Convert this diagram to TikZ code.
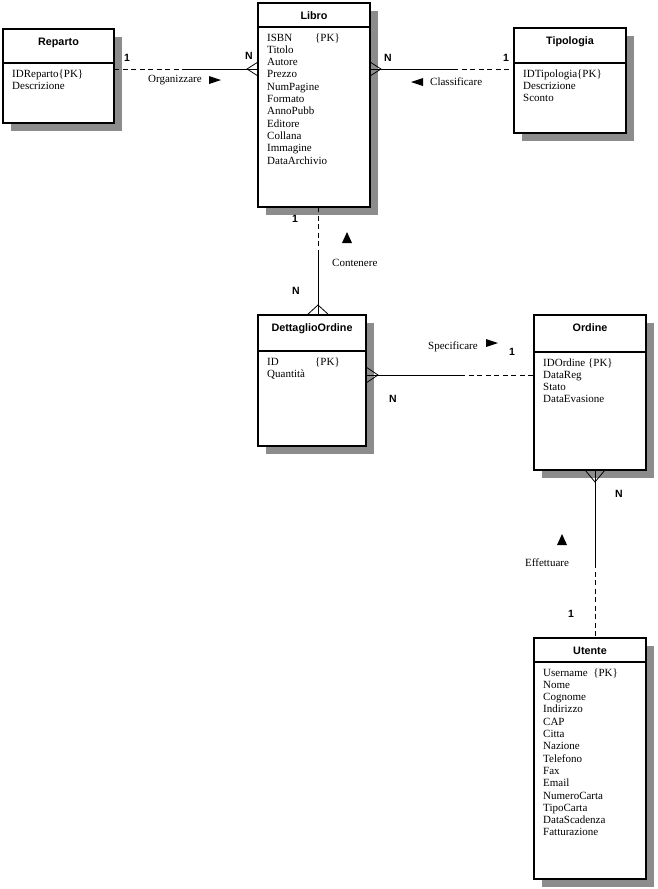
\documentclass[tikz,border=0pt]{standalone}
\usepackage{fontspec}
\setmainfont{Liberation Serif}
\newfontfamily\hfont{Liberation Sans}
\usetikzlibrary{calc}
\definecolor{shadowc}{gray}{0.55}
\tikzset{
  entity/.style={draw, line width=1.1pt, fill=white, inner sep=0pt, outer sep=0pt},
  attr/.style={font=\fontsize{11}{12}\selectfont, anchor=base west, inner sep=0pt},
  hdr/.style={font=\hfont\bfseries\fontsize{10.8}{12}\selectfont, anchor=base, inner sep=0pt},
  card/.style={font=\hfont\bfseries\fontsize{10.5}{12}\selectfont, inner sep=0pt},
  rel/.style={font=\fontsize{11}{12}\selectfont, anchor=west, inner sep=0pt},
  conn/.style={line width=0.8pt},
  dconn/.style={line width=0.8pt, dash pattern=on 5pt off 3.5pt},
  tri/.style={fill=black},
}
% #1 name, #2 x1, #3 y1, #4 x2, #5 y2, #6 separator y, #7 title, #8 attributes
\newcommand\erbox[8]{%
  \fill[shadowc] (#2+8,#3+8) rectangle (#4+8,#5+8);
  \node[entity, minimum width={#4-#2}, minimum height={#5-#3}] (#1) at ({(#2+#4)/2},{(#3+#5)/2}) {};
  \draw[line width=1.1pt] (#2,#6) -- (#4,#6);
  \node[hdr] (#1-t) at ({(#2+#4)/2},#3+16) {#7};
  \foreach \a [count=\i from 0] in {#8} {\node[attr] (#1-a\i) at (#2+9,{#6+14+12.3*\i}) {\a};}
}
\begin{document}
\begin{tikzpicture}[x=1pt,y=-1pt]
\useasboundingbox (0,0) rectangle (657,889);

\erbox{reparto}{3}{29}{114}{123}{63}{Reparto}{IDReparto\{PK\},Descrizione}
\erbox{libro}{258}{3}{370}{207}{27}{Libro}{\makebox[48pt][l]{ISBN}\{PK\},Titolo,Autore,Prezzo,NumPagine,Formato,AnnoPubb,Editore,Collana,Immagine,DataArchivio}
\erbox{tipologia}{514}{28}{626}{133}{63}{Tipologia}{IDTipologia\{PK\},Descrizione,Sconto}
\erbox{dettaglio}{258}{315}{366}{446}{351}{DettaglioOrdine}{\makebox[48pt][l]{ID}\{PK\},Quantità}
\erbox{ordine}{534}{315}{646}{470}{352}{Ordine}{IDOrdine \{PK\},DataReg,Stato,DataEvasione}
\erbox{utente}{534}{638}{646}{879}{662}{Utente}{Username \ \{PK\},Nome,Cognome,Indirizzo,CAP,Citta,Nazione,Telefono,Fax,Email,NumeroCarta,TipoCarta,DataScadenza,Fatturazione}

% Reparto - Libro
\coordinate (rl) at (182,69);
\coordinate (rlA) at (247,69);
\draw[dconn] (reparto.east |- rl) -- (rl);
\draw[conn] (rl) -- (libro.west |- rl);
\draw[conn] ($(libro.west |- rl)+(0,-7)$) -- (rlA) -- ($(libro.west |- rl)+(0,7)$);
\node[card] (c1) at (127,58) {1};
\node[card] (c2) at (249,56) {N};
\node[rel] (organizzare) at (148,80) {Organizzare};
\fill[tri] (209,76) -- (221,80) -- (209,84) -- cycle;

% Libro - Tipologia
\coordinate (lt) at (453,69);
\coordinate (ltA) at (381,69);
\draw[conn] (libro.east |- lt) -- (lt);
\draw[dconn] (lt) -- (tipologia.west |- lt);
\draw[conn] ($(libro.east |- lt)+(0,-7)$) -- (ltA) -- ($(libro.east |- lt)+(0,7)$);
\node[card] (c3) at (388,58) {N};
\node[card] (c4) at (506,58) {1};
\node[rel] (classificare) at (430,82) {Classificare};
\fill[tri] (423,78) -- (411,82) -- (423,86) -- cycle;

% Libro - DettaglioOrdine
\coordinate (ld) at (318,252);
\coordinate (ldA) at (318,305);
\draw[dconn] (libro.south -| ld) -- (ld);
\draw[conn] (ld) -- (dettaglio.north -| ld);
\draw[conn] ($(dettaglio.north -| ld)+(-11,0)$) -- (ldA) -- ($(dettaglio.north -| ld)+(11,0)$);
\node[card] (c5) at (295,219) {1};
\node[card] (c6) at (296,291) {N};
\node[rel] (contenere) at (332,263) {Contenere};
\fill[tri] (342,243) -- (347,232) -- (352,243) -- cycle;

% DettaglioOrdine - Ordine
\coordinate (do) at (460,375);
\coordinate (doA) at (378,375);
\draw[conn] (dettaglio.east |- do) -- (do);
\draw[dconn] (do) -- (ordine.west |- do);
\draw[conn] ($(dettaglio.east |- do)+(0,-8)$) -- (doA) -- ($(dettaglio.east |- do)+(0,8)$);
\node[card] (c7) at (393,399) {N};
\node[card] (c8) at (512,352) {1};
\node[rel] (specificare) at (428,347) {Specificare};
\fill[tri] (486,339) -- (498,343) -- (486,347) -- cycle;

% Ordine - Utente
\coordinate (ou) at (595,563);
\coordinate (ouA) at (595,482);
\draw[conn] (ordine.south -| ou) -- (ou);
\draw[dconn] (ou) -- (utente.north -| ou);
\draw[conn] ($(ordine.south -| ou)+(-10,0)$) -- (ouA) -- ($(ordine.south -| ou)+(10,0)$);
\node[card] (c9) at (619,494) {N};
\node[card] (c10) at (571,614) {1};
\node[rel] (effettuare) at (525,563) {Effettuare};
\fill[tri] (557,545) -- (562,534) -- (567,545) -- cycle;
\end{tikzpicture}
\end{document}
